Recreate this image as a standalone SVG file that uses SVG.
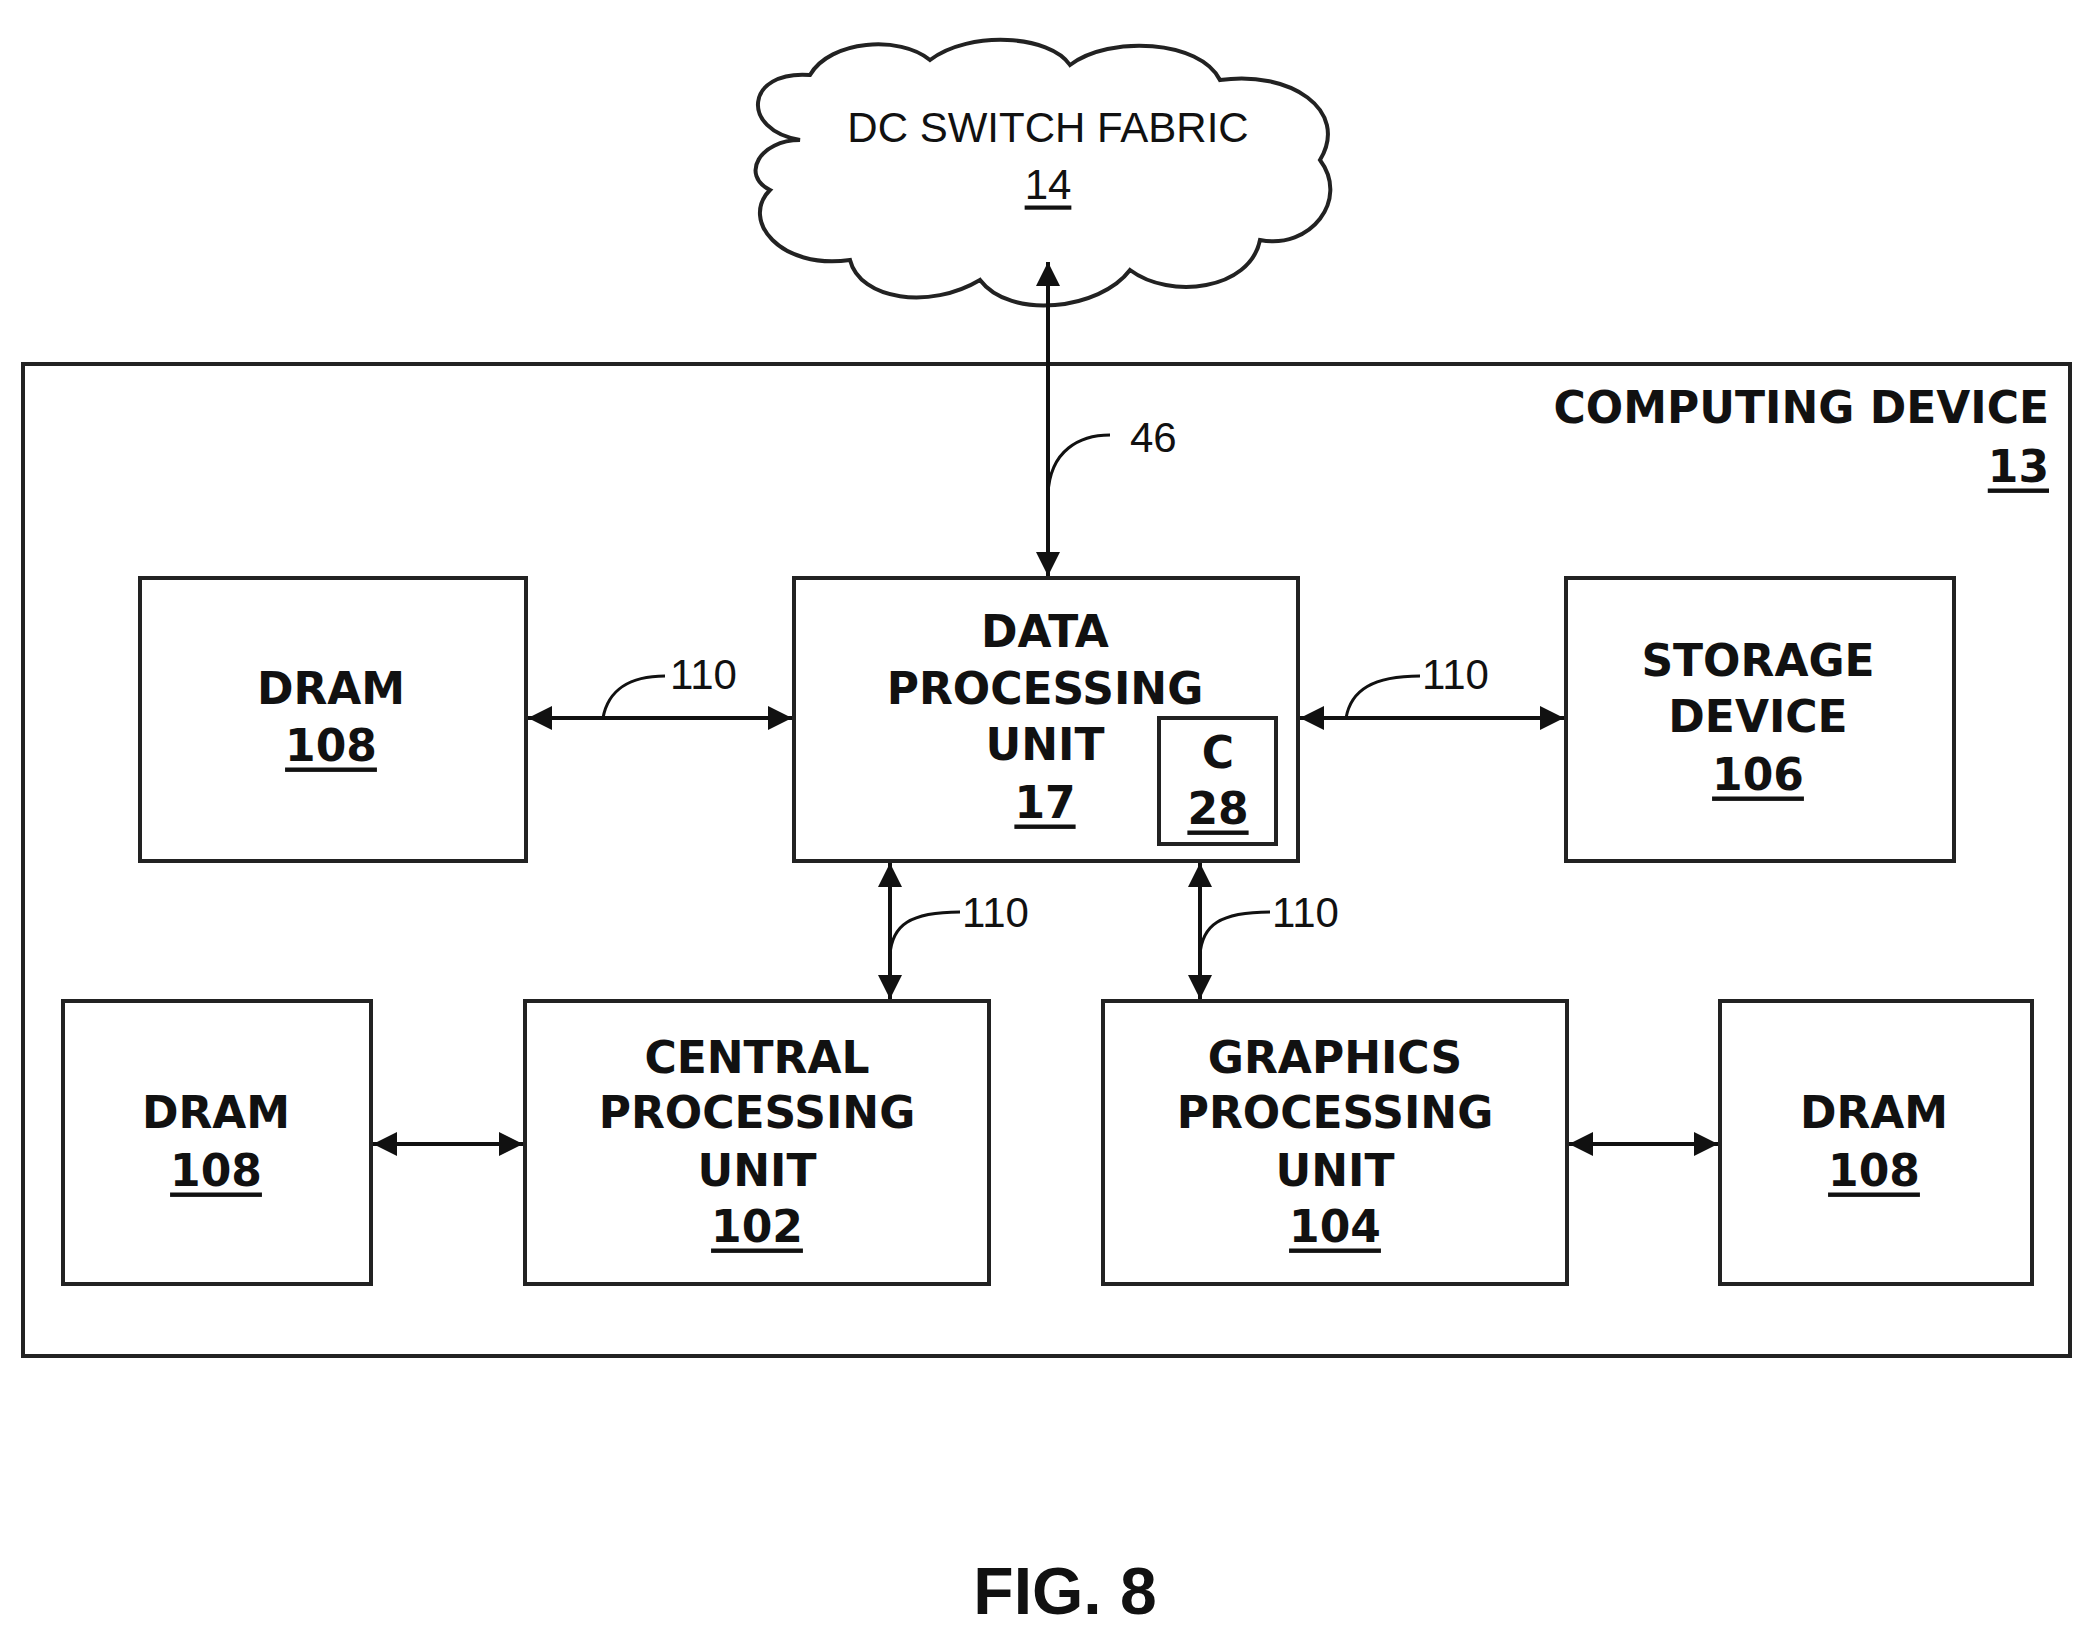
<svg xmlns="http://www.w3.org/2000/svg" width="2093" height="1640" viewBox="0 0 2093 1640">
<style>
.b{fill:#fff;stroke:#222;stroke-width:4}
.t{font-family:"DejaVu Sans","Liberation Sans",Arial,sans-serif;font-weight:bold;font-size:44px;fill:#111;text-anchor:middle;dominant-baseline:central}
.u{text-decoration:underline}
.c{stroke:#111;stroke-width:4;fill:none}
.l{stroke:#111;stroke-width:3;fill:none}
.lb{font-family:"Liberation Sans",Arial,sans-serif;font-size:42px;fill:#111;dominant-baseline:central}
</style>
<defs>
<marker id="a" viewBox="0 0 10 10" refX="10" refY="5" markerWidth="7" markerHeight="6" orient="auto-start-reverse" markerUnits="strokeWidth"><path d="M0,0L10,5L0,10z" fill="#111"/></marker>
</defs>
<rect width="2093" height="1640" fill="#fff"/>
<g id="cloud">
<path class="b" d="M800,140 C740,130 745,70 810,75 C830,40 900,35 930,60 C970,30 1050,35 1070,65 C1110,35 1200,40 1220,80 C1290,70 1350,110 1320,160 C1350,200 1310,250 1260,240 C1250,290 1170,300 1130,270 C1100,310 1010,320 980,280 C930,310 860,300 850,260 C780,270 740,220 770,190 C740,175 760,140 800,140 Z"/>
<text class="lb" x="1048" y="127" style="text-anchor:middle">DC SWITCH FABRIC</text>
<text class="lb u" x="1048" y="184" style="text-anchor:middle">14</text>
</g>
<g id="computing-device">
<rect class="b" x="23" y="364" width="2047" height="992"/>
<text class="t" x="2049" y="407" style="text-anchor:end">COMPUTING DEVICE</text>
<text class="t u" x="2049" y="466" style="text-anchor:end">13</text>
</g>
<g id="dram-tl"><rect class="b" x="140" y="578" width="386" height="283"/>
<text class="t" x="331" y="688">DRAM</text><text class="t u" x="331" y="745">108</text></g>
<g id="dpu"><rect class="b" x="794" y="578" width="504" height="283"/>
<text class="t" x="1045" y="631">DATA</text><text class="t" x="1045" y="688">PROCESSING</text><text class="t" x="1045" y="744">UNIT</text><text class="t u" x="1045" y="802">17</text>
<rect class="b" x="1159" y="718" width="117" height="126"/>
<text class="t" x="1218" y="752">C</text><text class="t u" x="1218" y="808">28</text></g>
<g id="storage"><rect class="b" x="1566" y="578" width="388" height="283"/>
<text class="t" x="1758" y="660">STORAGE</text><text class="t" x="1758" y="716">DEVICE</text><text class="t u" x="1758" y="774">106</text></g>
<g id="dram-bl"><rect class="b" x="63" y="1001" width="308" height="283"/>
<text class="t" x="216" y="1112">DRAM</text><text class="t u" x="216" y="1170">108</text></g>
<g id="cpu"><rect class="b" x="525" y="1001" width="464" height="283"/>
<text class="t" x="757" y="1057">CENTRAL</text><text class="t" x="757" y="1112">PROCESSING</text><text class="t" x="757" y="1170">UNIT</text><text class="t u" x="757" y="1226">102</text></g>
<g id="gpu"><rect class="b" x="1103" y="1001" width="464" height="283"/>
<text class="t" x="1335" y="1057">GRAPHICS</text><text class="t" x="1335" y="1112">PROCESSING</text><text class="t" x="1335" y="1170">UNIT</text><text class="t u" x="1335" y="1226">104</text></g>
<g id="dram-br"><rect class="b" x="1720" y="1001" width="312" height="283"/>
<text class="t" x="1874" y="1112">DRAM</text><text class="t u" x="1874" y="1170">108</text></g>
<g id="connectors">
<line class="c" x1="1048" y1="262" x2="1048" y2="576" marker-start="url(#a)" marker-end="url(#a)"/>
<line class="c" x1="528" y1="718" x2="792" y2="718" marker-start="url(#a)" marker-end="url(#a)"/>
<line class="c" x1="1300" y1="718" x2="1564" y2="718" marker-start="url(#a)" marker-end="url(#a)"/>
<line class="c" x1="890" y1="863" x2="890" y2="999" marker-start="url(#a)" marker-end="url(#a)"/>
<line class="c" x1="1200" y1="863" x2="1200" y2="999" marker-start="url(#a)" marker-end="url(#a)"/>
<line class="c" x1="373" y1="1144" x2="523" y2="1144" marker-start="url(#a)" marker-end="url(#a)"/>
<line class="c" x1="1569" y1="1144" x2="1718" y2="1144" marker-start="url(#a)" marker-end="url(#a)"/>
<path class="l" d="M1048,494 C1050,450 1080,435 1110,435"/>
<text class="lb" x="1130" y="437">46</text>
<path class="l" d="M603,718 C608,690 630,676 665,676"/>
<text class="lb" x="670" y="674">110</text>
<path class="l" d="M1346,718 C1351,690 1373,676 1420,676"/>
<text class="lb" x="1422" y="674">110</text>
<path class="l" d="M890,955 C892,925 910,912 960,912"/>
<text class="lb" x="962" y="912">110</text>
<path class="l" d="M1200,955 C1202,925 1220,912 1270,912"/>
<text class="lb" x="1272" y="912">110</text>
</g>
<text class="t" x="1065" y="1591" style="font-size:66px;font-family:'Liberation Sans',Arial,sans-serif">FIG. 8</text>
</svg>
